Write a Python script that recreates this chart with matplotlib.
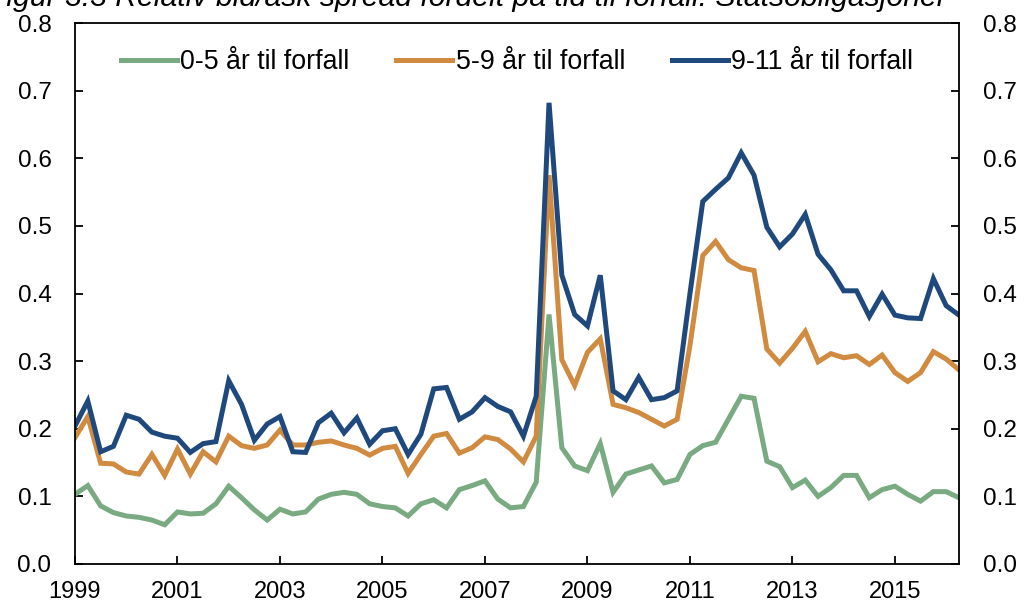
import numpy as np
import matplotlib.pyplot as plt
from matplotlib.ticker import MultipleLocator, FormatStrFormatter

plt.rcParams['font.family'] = ['Liberation Sans', 'DejaVu Sans']

# quarterly data, 1999Q1 - 2016Q2
years = 1999 + np.arange(70) * 0.25

short = [0.103, 0.116, 0.086, 0.076, 0.071, 0.069, 0.065, 0.058, 0.077, 0.074,
         0.075, 0.089, 0.115, 0.098, 0.080, 0.065, 0.081, 0.074, 0.077, 0.096,
         0.103, 0.106, 0.103, 0.089, 0.085, 0.083, 0.071, 0.089, 0.095, 0.083,
         0.110, 0.116, 0.123, 0.096, 0.083, 0.085, 0.121, 0.369, 0.172, 0.145,
         0.138, 0.178, 0.106, 0.133, 0.139, 0.145, 0.120, 0.125, 0.162, 0.175,
         0.180, 0.214, 0.248, 0.245, 0.152, 0.144, 0.113, 0.124, 0.100, 0.113,
         0.131, 0.131, 0.098, 0.110, 0.115, 0.103, 0.093, 0.107, 0.107, 0.098]

mid = [0.187, 0.218, 0.149, 0.148, 0.136, 0.133, 0.162, 0.131, 0.170, 0.133,
       0.166, 0.151, 0.189, 0.175, 0.171, 0.176, 0.198, 0.176, 0.176, 0.180,
       0.182, 0.176, 0.171, 0.161, 0.171, 0.174, 0.134, 0.162, 0.189, 0.193,
       0.164, 0.172, 0.188, 0.184, 0.170, 0.151, 0.189, 0.575, 0.302, 0.264,
       0.313, 0.333, 0.236, 0.231, 0.224, 0.214, 0.204, 0.214, 0.323, 0.456,
       0.477, 0.450, 0.438, 0.434, 0.318, 0.297, 0.319, 0.344, 0.299, 0.311,
       0.305, 0.308, 0.295, 0.309, 0.283, 0.270, 0.283, 0.314, 0.303, 0.287]

long = [0.204, 0.241, 0.166, 0.174, 0.220, 0.214, 0.195, 0.189, 0.186, 0.165,
        0.178, 0.181, 0.271, 0.236, 0.183, 0.207, 0.218, 0.166, 0.165, 0.209,
        0.223, 0.194, 0.216, 0.177, 0.197, 0.200, 0.162, 0.192, 0.259, 0.261,
        0.214, 0.225, 0.246, 0.233, 0.225, 0.189, 0.248, 0.682, 0.427, 0.369,
        0.352, 0.427, 0.256, 0.243, 0.276, 0.243, 0.246, 0.256, 0.400, 0.536,
        0.554, 0.571, 0.608, 0.575, 0.498, 0.469, 0.488, 0.517, 0.458, 0.435,
        0.404, 0.404, 0.366, 0.399, 0.368, 0.364, 0.363, 0.422, 0.382, 0.368]

labels = ['0-5 år til forfall', '5-9 år til forfall', '9-11 år til forfall']
colors = ['#7AAA82', '#D18B40', '#1F497D']

fig = plt.figure(figsize=(10.24, 6.06), dpi=100)
ax = fig.add_axes([75 / 1024, 42 / 606, 884 / 1024, 541 / 606])

for s, lab, c in zip([short, mid, long], labels, colors):
    ax.plot(years, s, color=c, lw=3.6, label=lab, solid_joinstyle='miter')

ax.set_xlim(1999, 2016.25)
ax.set_ylim(0, 0.8)
ax.set_xticks(np.arange(1999, 2016, 2))
ax.yaxis.set_major_locator(MultipleLocator(0.1))
ax.yaxis.set_major_formatter(FormatStrFormatter('%.1f'))

ax.tick_params(axis='x', direction='in', length=6, width=1.3, labelsize=17, pad=12)
ax.tick_params(axis='y', direction='in', length=6, width=1.3, labelsize=17.5, pad=17,
               right=True, labelright=True)
for sp in ax.spines.values():
    sp.set_linewidth(1.3)

ax.legend(loc='center', bbox_to_anchor=(0.5, 0.928), ncol=3, frameon=False,
          fontsize=19.3, handlelength=2.1, handletextpad=0.12, columnspacing=1.75)

# title sits partly above the top edge, as in the source image
fig.text(-0.012, 1.03, 'Figur 3.3 Relativ bid/ask spread fordelt på tid til forfall. Statsobligasjoner',
         fontsize=21.7, style='italic', va='top', ha='left')

fig.savefig('out.png', dpi=100)
